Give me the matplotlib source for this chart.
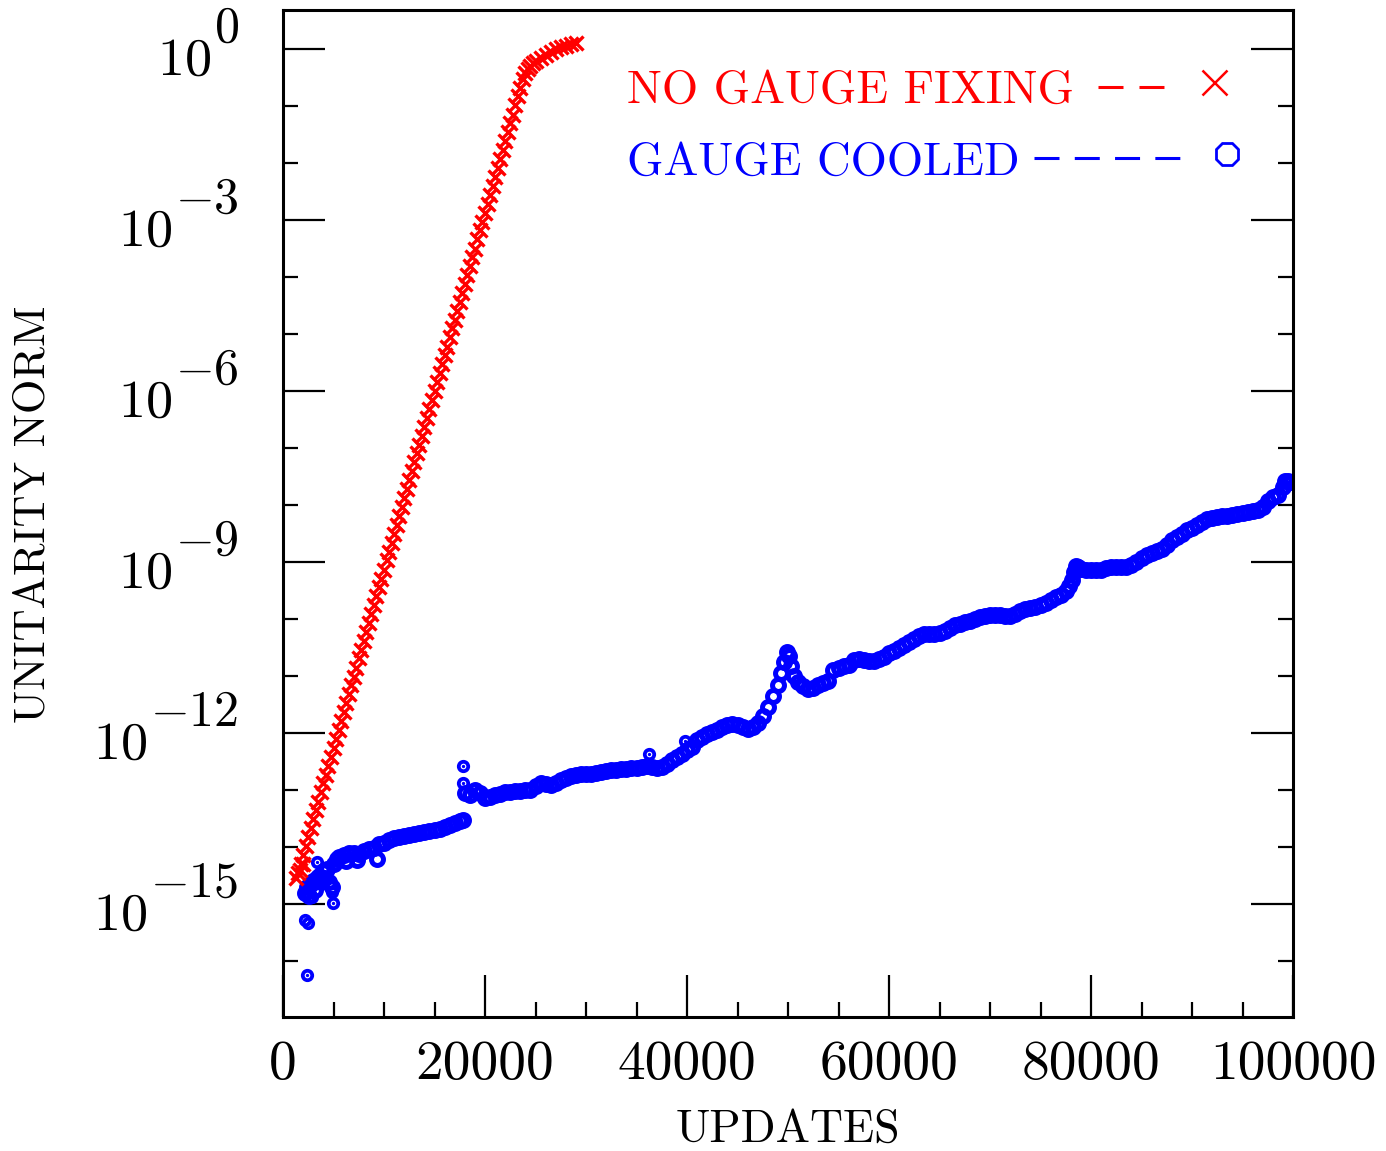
import numpy as np
import matplotlib.pyplot as plt
from matplotlib.ticker import FixedLocator, FuncFormatter, NullFormatter

plt.rcParams['font.family'] = 'cmr10'
plt.rcParams['mathtext.fontset'] = 'cm'
plt.rcParams['lines.scale_dashes'] = False

# --- data (x = updates, y = log10 of unitarity norm) ---
# no gauge fixing, sampled every 250 updates from 1500
red_x = list(range(1500, 23751, 250))
red_logy = [-14.45, -14.29, -14.14, -13.98, -13.82, -13.67, -13.51, -13.35, -13.20, -13.04,
            -12.88, -12.73, -12.57, -12.42, -12.26, -12.10, -11.95, -11.79, -11.63, -11.48,
            -11.32, -11.16, -11.01, -10.85, -10.69, -10.54, -10.38, -10.22, -10.07, -9.91,
            -9.76, -9.60, -9.44, -9.29, -9.13, -8.97, -8.82, -8.66, -8.50, -8.35,
            -8.19, -8.03, -7.88, -7.72, -7.56, -7.41, -7.25, -7.09, -6.94, -6.78,
            -6.63, -6.47, -6.31, -6.16, -6.00, -5.84, -5.69, -5.53, -5.37, -5.22,
            -5.06, -4.90, -4.75, -4.59, -4.43, -4.28, -4.12, -3.96, -3.81, -3.65,
            -3.50, -3.34, -3.18, -3.03, -2.87, -2.71, -2.56, -2.40, -2.24, -2.09,
            -1.93, -1.77, -1.62, -1.46, -1.30, -1.15, -0.99, -0.83, -0.68, -0.52]
# saturation at the top, plus the scatter at the start
red_x += [24000, 24250, 24500, 24750, 25000, 25500, 26000, 26500, 27000, 27500, 28000, 28500, 29000,
          1300, 1700, 2000]
red_logy += [-0.42, -0.35, -0.30, -0.25, -0.21, -0.15, -0.10, -0.05, 0.00, 0.03, 0.06, 0.08, 0.10,
             -14.55, -14.40, -14.30]

# gauge cooled: early cluster and first branch
blue_x = [2200, 2400, 2600, 2800, 3000, 3200, 3400, 3600, 3800, 4000, 4200, 4400, 4600, 4800, 5000, 5300,
          5500, 6000, 6500, 7000, 7500, 8000, 8500, 9000, 9500, 10000, 10500, 11000, 11500, 12000,
          12500, 13000, 13500, 14000, 14500, 15000, 15500, 16000, 16500, 17000, 17500, 17800,
          6200, 7300, 9300]
blue_logy = [-14.80, -14.70, -14.85, -14.65, -14.60, -14.75, -14.55, -14.50, -14.62, -14.42, -14.55,
             -14.38, -14.62, -14.70, -14.30, -14.20,
             -14.18, -14.13, -14.10, -14.10, -14.12, -14.06, -14.04, -14.02, -13.95, -13.92, -13.88,
             -13.84, -13.82, -13.80, -13.78, -13.77, -13.75, -13.74, -13.72, -13.70, -13.68, -13.65,
             -13.62, -13.58, -13.55, -13.52,
             -14.25, -14.22, -14.20]
# second branch after the jump at ~18000 updates
blue_x += [18000, 18500, 19000, 19500, 20000, 20500, 21000, 21500, 22000, 22500, 23000, 23500,
           24000, 24500, 25000, 25500, 26000, 26500, 27000, 27500, 28000, 28500, 29000, 29500,
           30000, 30500, 31000, 31500, 32000, 32500, 33000, 33500, 34000, 34500, 35000, 35500,
           36000, 36500, 37000, 37500, 38000, 38500, 39000, 39500, 40000, 40500, 41000, 41500,
           42000, 42500, 43000, 43500, 44000, 44500, 45000, 45500, 46000, 46500, 47000, 47500,
           48000, 48500, 49000, 49300, 49600, 49900, 50100, 50300, 50600, 51000, 51500, 52000,
           52500, 53000, 53500, 54000, 54500, 55000, 55500, 56000, 56500, 57000, 57500, 58000,
           58500, 59000, 59500, 60000, 60500, 61000, 61500, 62000, 62500, 63000, 63500, 64000,
           64500, 65000, 65500, 66000, 66500, 67000, 67500, 68000, 68500, 69000, 69500, 70000,
           70500, 71000, 71500, 72000, 72500, 73000, 73500, 74000, 74500, 75000, 75500, 76000,
           76500, 77000, 77500, 77800, 78100, 78300, 78500, 78700, 79000, 79500, 80000, 80500,
           81000, 81500, 82000, 82500, 83000, 83500, 84000, 84500, 85000, 85500, 86000, 86500,
           87000, 87500, 88000, 88500, 89000, 89500, 90000, 90500, 91000, 91500, 92000, 92500,
           93000, 93500, 94000, 94500, 95000, 95500, 96000, 96500, 97000, 97500, 98000, 98500,
           99000, 99200, 99500, 99800]
blue_logy += [-13.05, -13.08, -13.00, -13.05, -13.14, -13.12, -13.08, -13.06, -13.04, -13.03, -13.02, -13.01,
              -13.00, -13.00, -12.92, -12.88, -12.89, -12.91, -12.88, -12.82, -12.78, -12.76, -12.74, -12.72,
              -12.71, -12.71, -12.70, -12.69, -12.67, -12.65, -12.64, -12.63, -12.63, -12.62, -12.61, -12.60,
              -12.58, -12.60, -12.62, -12.60, -12.54, -12.48, -12.42, -12.36, -12.30, -12.25, -12.12, -12.06,
              -12.02, -11.98, -11.95, -11.90, -11.85, -11.84, -11.86, -11.90, -11.92, -11.90, -11.82, -11.70,
              -11.55, -11.35, -11.15, -10.95, -10.75, -10.58, -10.65, -10.82, -11.00, -11.10, -11.18, -11.22,
              -11.20, -11.15, -11.12, -11.08, -10.90, -10.85, -10.83, -10.80, -10.72, -10.70, -10.72, -10.73,
              -10.74, -10.70, -10.66, -10.60, -10.56, -10.50, -10.45, -10.40, -10.35, -10.30, -10.27, -10.26,
              -10.26, -10.25, -10.20, -10.15, -10.11, -10.08, -10.05, -10.03, -10.00, -9.97, -9.95, -9.93,
              -9.93, -9.93, -9.94, -9.94, -9.91, -9.86, -9.82, -9.80, -9.79, -9.76, -9.72, -9.67,
              -9.62, -9.57, -9.50, -9.42, -9.32, -9.18, -9.06, -9.08, -9.12, -9.14, -9.14, -9.14,
              -9.13, -9.11, -9.09, -9.08, -9.08, -9.08, -9.05, -9.00, -8.93, -8.88, -8.84, -8.80,
              -8.77, -8.70, -8.62, -8.56, -8.50, -8.43, -8.40, -8.35, -8.29, -8.25, -8.23, -8.21,
              -8.20, -8.19, -8.17, -8.15, -8.14, -8.12, -8.10, -8.08, -8.03, -7.92, -7.86, -7.83,
              -7.68, -7.57, -7.57, -7.60]
# isolated points off the main band
stray_x = [2340, 2200, 2450, 3330, 2840, 4920, 4820, 17850, 17850, 36230, 39800]
stray_logy = [-16.25, -15.28, -15.33, -14.26, -14.87, -14.98, -14.78, -12.57, -12.87, -12.37, -12.13]

label_exps = [0, -3, -6, -9, -12, -15]
x_major = [0, 20000, 40000, 60000, 80000, 100000]

RED = '#ff0000'
BLUE = '#0000ff'

fig = plt.figure(figsize=(13.86, 11.51), dpi=100)
ax = fig.add_axes([0.2042, 0.1164, 0.7287, 0.8749])

ry = 10.0 ** np.array(red_logy)
by = 10.0 ** np.array(blue_logy)
sy = 10.0 ** np.array(stray_logy)
ax.plot(blue_x, by, ls='none', marker='o', ms=8.6, mew=3.6, mfc='none', mec=BLUE)
ax.plot(stray_x, sy, ls='none', marker='o', ms=6.8, mew=2.7, mfc='none', mec=BLUE)
ax.plot(stray_x, sy, ls='none', marker='o', ms=2.4, mew=0, mfc=BLUE)
ax.plot(red_x, ry, ls='none', marker='x', ms=10.5, mew=2.4, color=RED)

ax.set_yscale('log')
ax.set_xlim(0, 100000)
ax.set_ylim(10 ** -16.98, 10 ** 0.684)

ax.xaxis.set_major_locator(FixedLocator(x_major))
ax.xaxis.set_minor_locator(FixedLocator(np.arange(0, 100001, 5000)))
ax.xaxis.set_major_formatter(FuncFormatter(lambda v, p: '%d' % v))
ax.yaxis.set_major_locator(FixedLocator([10.0 ** e for e in label_exps]))
ax.yaxis.set_minor_locator(FixedLocator([10.0 ** e for e in range(-16, 1)]))
ax.yaxis.set_major_formatter(NullFormatter())
ax.yaxis.set_minor_formatter(NullFormatter())

ax.tick_params(which='major', direction='in', length=30, width=1.6, right=True, top=False,
               labelsize=40, pad=17)
ax.tick_params(which='minor', direction='in', length=11, width=1.6, right=True, top=False)
for s in ax.spines.values():
    s.set_linewidth(2.2)

# y tick labels: big "10" and nearly full-size exponent
for e in label_exps:
    sup = ax.annotate('$%d$' % e, xy=(0, 10.0 ** e), xycoords=('axes fraction', 'data'),
                      xytext=(-32, 5), textcoords='offset points', ha='right', va='baseline',
                      fontsize=36)
    ax.annotate('$10$', xy=(0, 0), xycoords=sup, xytext=(-2, -16), textcoords='offset points',
                ha='right', va='baseline', fontsize=39)

fig.text(788 / 1386, 1 - 1130 / 1151, 'UPDATES', ha='center', va='center', fontsize=33)
fig.text(33 / 1386, 1 - 514 / 1151, 'UNITARITY NORM', ha='center', va='center', rotation=90,
         fontsize=32)

# key drawn inside the frame
ax.text(0.3406, 0.9076, 'NO GAUGE FIXING', color=RED, fontsize=33.5, transform=ax.transAxes,
        ha='left', va='baseline')
ax.text(0.3406, 0.836, 'GAUGE COOLED', color=BLUE, fontsize=33.5, transform=ax.transAxes,
        ha='left', va='baseline')
l1, = ax.plot([0.807, 0.874], [0.9236, 0.9236], color=RED, lw=2.2, transform=ax.transAxes)
l1.set_dashes([18, 11.5])
l2, = ax.plot([0.7436, 0.888], [0.853, 0.853], color=BLUE, lw=2.2, transform=ax.transAxes)
l2.set_dashes([18, 11])
ax.plot([0.9218], [0.9285], marker='x', ms=18, mew=1.8, color=RED, transform=ax.transAxes)
ax.plot([0.9347], [0.857], marker='8', ms=17, mew=2.0, mfc='none', mec=BLUE, transform=ax.transAxes)

fig.savefig('out.png', dpi=100)
